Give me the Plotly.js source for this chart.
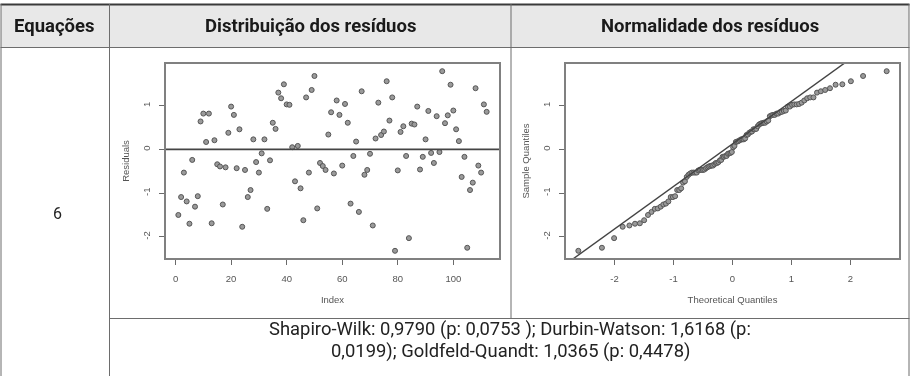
<!DOCTYPE html>
<html>
<head>
<meta charset="utf-8">
<script src="https://cdn.plot.ly/plotly-3.0.1.min.js"></script>
<style>
  html, body { margin: 0; padding: 0; background: #fff; }
  #chart { width: 910px; height: 376px; }
  /* the two residual plots are soft raster figures inside the table */
  .cartesianlayer, .g-xtitle, .g-x2title, .g-ytitle, .g-y2title { filter: blur(0.7px); }
</style>
</head>
<body>
<div id="chart"></div>
<script>
// Residuals of equation 6, in observation order
const residuals = [
  -1.50, -1.09, -0.53, -1.19, -1.70, -0.24, -1.31, -1.07,  0.64,  0.82,
   0.17,  0.82, -1.69,  0.21, -0.34, -0.39, -1.26, -0.41,  0.38,  0.98,
   0.79, -0.43,  0.46, -1.77, -0.47, -1.09, -0.93,  0.23, -0.29, -0.53,
  -0.09,  0.23, -1.36, -0.25,  0.61,  0.47,  1.30,  1.17,  1.49,  1.03,
   1.02,  0.05, -0.73,  0.08, -0.89, -1.62,  1.19, -0.53,  1.36,  1.68,
  -1.35, -0.31, -0.38, -0.47,  0.34,  0.85, -0.55,  1.12,  0.79, -0.37,
   1.04,  0.61, -1.24, -0.15,  0.18, -1.43,  1.33, -0.58, -0.47, -0.10,
  -1.74,  0.25,  1.07,  0.33,  0.41,  1.56,  0.66,  1.19, -2.32, -0.48,
   0.40,  0.53, -0.15, -2.03,  0.59,  0.57,  0.98, -0.46, -0.17,  0.23,
   0.88, -0.08, -0.31,  0.76, -0.06,  1.79,  0.60,  0.78,  1.48,  0.89,
   0.46,  0.19, -0.63, -0.17, -2.25, -0.93, -0.76,  1.40, -0.37, -0.53,
   1.03,  0.86
];

const indexTicks = [0, 20, 40, 60, 80, 100];
const quantileTicks = [-2, -1, 0, 1, 2];
const residualTicks = [-2, -1, 0, 1];

const headers = ['Equações', 'Distribuição dos resíduos', 'Normalidade dos resíduos'];
const equationLabel = '6';
const testLines = [
  'Shapiro-Wilk: 0,9790 (p: 0,0753 ); Durbin-Watson: 1,6168 (p:',
  '0,0199); Goldfeld-Quandt: 1,0365 (p: 0,4478)'
];

// ---------- helpers ----------
// inverse standard normal CDF (Acklam)
function qnorm(p) {
  const a = [-3.969683028665376e+01, 2.209460984245205e+02, -2.759285104469687e+02,
             1.383577518672690e+02, -3.066479806614716e+01, 2.506628277459239e+00];
  const b = [-5.447609879822406e+01, 1.615858368580409e+02, -1.556989798598866e+02,
             6.680131188771972e+01, -1.328068155288572e+01];
  const c = [-7.784894002430293e-03, -3.223964580411365e-01, -2.400758277161838e+00,
             -2.549732539343734e+00, 4.374664141464968e+00, 2.938163982698783e+00];
  const d = [7.784695709041462e-03, 3.224671290700398e-01, 2.445134137142996e+00,
             3.754408661907416e+00];
  const pl = 0.02425;
  let q, r;
  if (p < pl) {
    q = Math.sqrt(-2 * Math.log(p));
    return (((((c[0]*q+c[1])*q+c[2])*q+c[3])*q+c[4])*q+c[5]) / ((((d[0]*q+d[1])*q+d[2])*q+d[3])*q+1);
  }
  if (p <= 1 - pl) {
    q = p - 0.5; r = q * q;
    return (((((a[0]*r+a[1])*r+a[2])*r+a[3])*r+a[4])*r+a[5])*q / (((((b[0]*r+b[1])*r+b[2])*r+b[3])*r+b[4])*r+1);
  }
  q = Math.sqrt(-2 * Math.log(1 - p));
  return -(((((c[0]*q+c[1])*q+c[2])*q+c[3])*q+c[4])*q+c[5]) / ((((d[0]*q+d[1])*q+d[2])*q+d[3])*q+1);
}
// sample quantile, type 7
function quantile(sorted, p) {
  const h = (sorted.length - 1) * p, lo = Math.floor(h), hi = Math.ceil(h);
  return sorted[lo] + (h - lo) * (sorted[hi] - sorted[lo]);
}
// 4% padded range, like base graphics
function padRange(vals) {
  const mn = Math.min(...vals), mx = Math.max(...vals), d = (mx - mn) * 0.04;
  return [mn - d, mx + d];
}

// ---------- derived series ----------
const n = residuals.length;
const obsIndex = residuals.map((_, i) => i + 1);
const sampleQ = residuals.slice().sort((a, b) => a - b);
const theoQ = sampleQ.map((_, i) => qnorm((i + 1 - 0.5) / n));
const q1 = quantile(sampleQ, 0.25), q3 = quantile(sampleQ, 0.75);
const slope = (q3 - q1) / (qnorm(0.75) - qnorm(0.25));
const intercept = q1 - slope * qnorm(0.25);

const xr1 = padRange(obsIndex);
const xr2 = padRange(theoQ);
const yr = padRange(residuals);

// ---------- page geometry (pixels) ----------
const W = 910, H = 376;
const px = v => v / W;
const py = v => 1 - v / H;
const box = { top: 64, bottom: 258, l1: 166, r1: 499, l2: 566, r2: 899 };

const smallFont = { family: 'Liberation Sans, Arial, sans-serif', size: 9.5, color: '#555' };
const tableFont = { family: 'Roboto, sans-serif', size: 18.4, color: '#222' };
const headFont = { family: 'Roboto, sans-serif', size: 18.5, color: '#1a1a1a', weight: 700 };

function xAxis(domain, range, ticks, title, anchor) {
  return {
    domain: domain, range: range, anchor: anchor,
    tickmode: 'array', tickvals: ticks, ticktext: ticks.map(String),
    ticks: 'outside', ticklen: 5, tickwidth: 1, tickcolor: '#6a6a6a',
    ticklabelstandoff: 5,
    showline: true, mirror: true, linecolor: '#808080', linewidth: 2.4,
    showgrid: false, zeroline: false, tickfont: smallFont,
    title: { text: title, font: smallFont, standoff: 14 },
    fixedrange: true
  };
}
function yAxis(domain, range, ticks, title, anchor) {
  return {
    domain: domain, range: range, anchor: anchor,
    tickmode: 'array', tickvals: ticks, ticktext: ticks.map(String),
    tickangle: -90,
    ticks: 'outside', ticklen: 5, tickwidth: 1, tickcolor: '#6a6a6a',
    ticklabelstandoff: 5,
    showline: true, mirror: true, linecolor: '#808080', linewidth: 2.4,
    showgrid: false, zeroline: false, tickfont: smallFont,
    title: { text: title, font: smallFont, standoff: 10 },
    fixedrange: true
  };
}

const marker = { symbol: 'circle', size: 5, color: '#9a9a9a', line: { color: '#555', width: 1 } };

const traces = [
  { // residuals against observation index
    type: 'scatter', mode: 'markers', x: obsIndex, y: residuals,
    xaxis: 'x', yaxis: 'y', marker: marker, hoverinfo: 'skip'
  },
  { // horizontal reference at zero
    type: 'scatter', mode: 'lines', x: xr1, y: [0, 0],
    xaxis: 'x', yaxis: 'y', line: { color: '#444', width: 1.6 }, hoverinfo: 'skip'
  },
  { // normal Q-Q points
    type: 'scatter', mode: 'markers', x: theoQ, y: sampleQ,
    xaxis: 'x2', yaxis: 'y2', marker: marker, hoverinfo: 'skip'
  },
  { // Q-Q reference line through the quartiles
    type: 'scatter', mode: 'lines', x: xr2, y: xr2.map(v => intercept + slope * v),
    xaxis: 'x2', yaxis: 'y2', line: { color: '#444', width: 1.4 }, hoverinfo: 'skip'
  }
];

// table grid
const lineGrey = '#6d6d6d';
function hLine(y, x0, x1, w, c) {
  return { type: 'line', xref: 'paper', yref: 'paper', x0: px(x0), x1: px(x1), y0: py(y), y1: py(y),
           line: { color: c || lineGrey, width: w || 1 } };
}
function vLine(x, y0, y1, w, c) {
  return { type: 'line', xref: 'paper', yref: 'paper', x0: px(x), x1: px(x), y0: py(y0), y1: py(y1),
           line: { color: c || lineGrey, width: w || 1 } };
}
const shapes = [
  { type: 'rect', xref: 'paper', yref: 'paper', x0: px(1), x1: px(909), y0: py(47), y1: py(5),
    fillcolor: '#e8e8e8', line: { width: 0 }, layer: 'below' },
  hLine(4.5, 0.5, 909.5, 2, '#3a3a3a'),
  hLine(47.5, 0.5, 909.5, 1),
  hLine(318.5, 109, 909.5, 1),
  vLine(1, 4, 376, 1),
  vLine(909, 4, 376, 1),
  vLine(109.5, 4, 376, 1),
  vLine(511, 4, 318.5, 1)
];

const annotations = [
  { text: headers[0], x: px(54), y: py(26), font: headFont },
  { text: headers[1], x: px(310), y: py(26), font: headFont },
  { text: headers[2], x: px(710), y: py(26), font: headFont },
  { text: equationLabel, x: px(58), y: py(213), font: Object.assign({}, tableFont, { size: 16 }) },
  { text: testLines[0], x: px(510), y: py(329), font: tableFont },
  { text: testLines[1], x: px(510), y: py(351), font: tableFont }
].map(a => Object.assign({ xref: 'paper', yref: 'paper', showarrow: false,
                            xanchor: 'center', yanchor: 'middle' }, a));

const dy = [py(box.bottom), py(box.top)];
const layout = {
  width: W, height: H,
  margin: { l: 0, r: 0, t: 0, b: 0, pad: 0 },
  paper_bgcolor: '#fff', plot_bgcolor: '#fff',
  showlegend: false,
  xaxis: xAxis([px(box.l1), px(box.r1)], xr1, indexTicks, 'Index', 'y'),
  yaxis: yAxis(dy, yr, residualTicks, 'Residuals', 'x'),
  xaxis2: xAxis([px(box.l2), px(box.r2)], xr2, quantileTicks, 'Theoretical Quantiles', 'y2'),
  yaxis2: yAxis(dy, yr, residualTicks, 'Sample Quantiles', 'x2'),
  shapes: shapes,
  annotations: annotations
};

Plotly.newPlot('chart', traces, layout, { staticPlot: true, displayModeBar: false });
</script>
</body>
</html>
